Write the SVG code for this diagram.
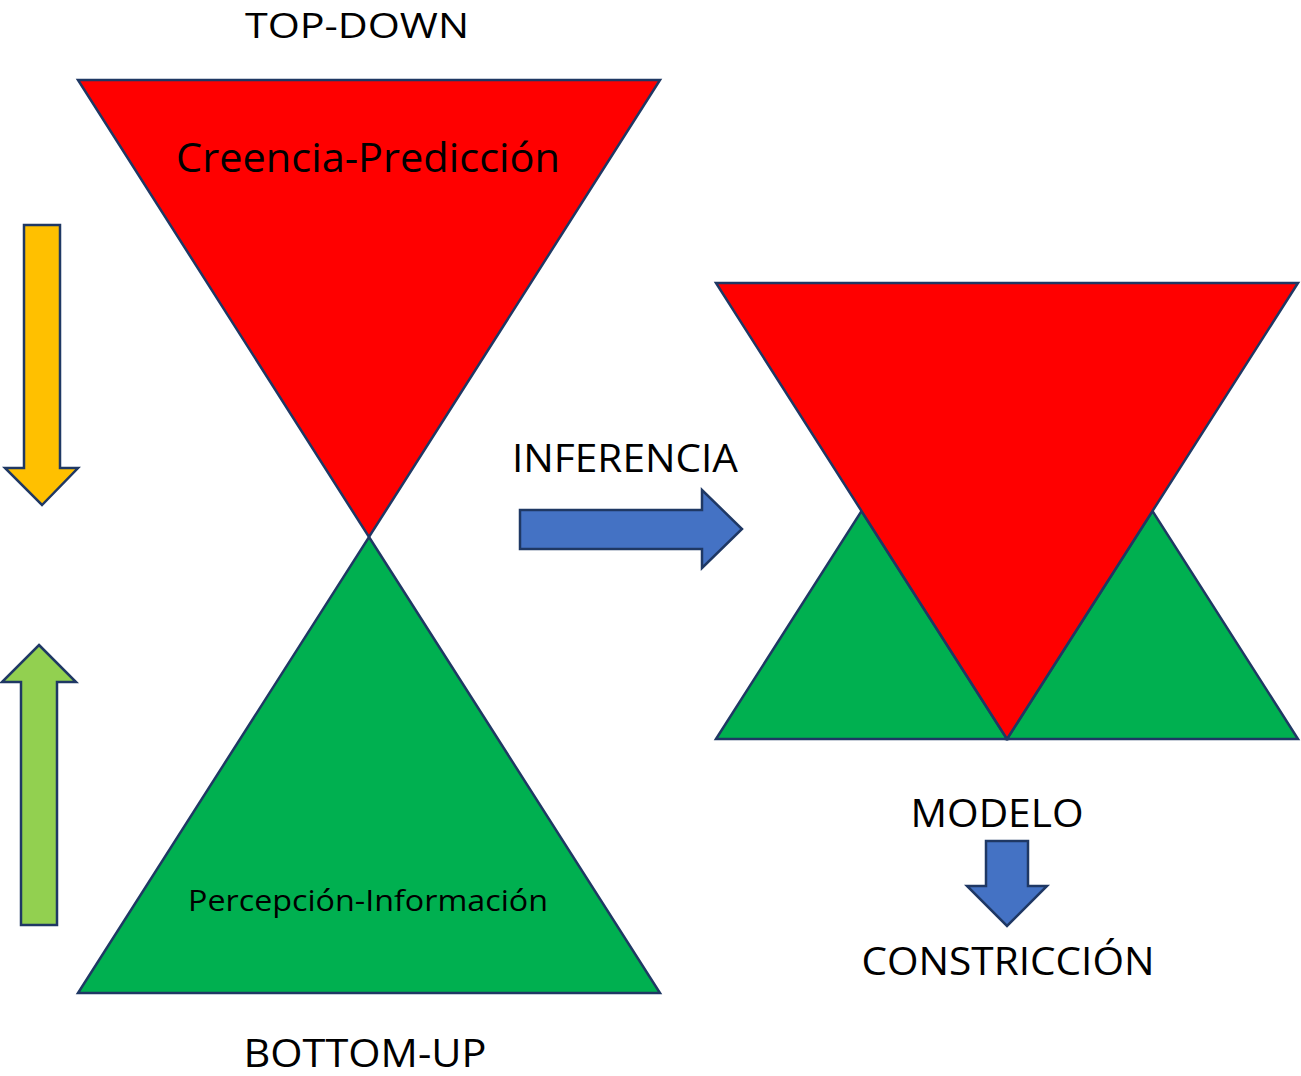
<svg xmlns="http://www.w3.org/2000/svg" width="1301" height="1076" viewBox="0 0 1301 1076">
<style>
.shape{stroke:#1F3864;stroke-width:2.5;stroke-linejoin:miter}
.red{fill:#FF0000}
.green{fill:#00B050}
.yellow{fill:#FFC000}
.lime{fill:#92D050}
.blue{fill:#4472C4}
text{font-family:"Open Sans","Liberation Sans",sans-serif;fill:#000}
.lbl{font-size:38px}
</style>
<rect width="1301" height="1076" fill="#fff"/>
<g id="left-red"><polygon class="shape red" points="78,80 660,80 369,537"/><text x="368" y="172" font-size="40" text-anchor="middle" textLength="384" lengthAdjust="spacingAndGlyphs">Creencia-Predicción</text></g>
<g id="left-green"><polygon class="shape green" points="369,537 660,993 78,993"/><text x="368" y="911" font-size="29" text-anchor="middle" textLength="360" lengthAdjust="spacingAndGlyphs">Percepción-Información</text></g>
<g id="right-green-left"><polygon class="shape green" points="716,739 861.5,511 1007,739"/></g>
<g id="right-green-right"><polygon class="shape green" points="1007,739 1152.5,511 1298,739"/></g>
<g id="right-red"><polygon class="shape red" points="716,283 1298,283 1007,739"/></g>
<g id="labels">
<text x="357" y="38" font-size="35" text-anchor="middle" textLength="224" lengthAdjust="spacingAndGlyphs">TOP-DOWN</text>
<text class="lbl" x="365" y="1067" text-anchor="middle" textLength="243" lengthAdjust="spacingAndGlyphs">BOTTOM-UP</text>
<text class="lbl" x="625" y="472" text-anchor="middle" textLength="226" lengthAdjust="spacingAndGlyphs">INFERENCIA</text>
<text class="lbl" x="997" y="827" text-anchor="middle" textLength="173" lengthAdjust="spacingAndGlyphs">MODELO</text>
<text class="lbl" x="1008" y="975" text-anchor="middle" textLength="293" lengthAdjust="spacingAndGlyphs">CONSTRICCIÓN</text>
</g>
<g id="connectors">
<polygon class="shape yellow" points="24,225 60,225 60,468 78,468 42,505 5,468 24,468"/>
<polygon class="shape lime" points="39,645 76,682 57,682 57,925 21,925 21,682 2,682"/>
<polygon class="shape blue" points="520,510 702,510 702,490 742,529 702,568 702,549 520,549"/>
<polygon class="shape blue" points="986,841 1028,841 1028,886 1047,886 1007,926 967,886 986,886"/>
</g>
</svg>
